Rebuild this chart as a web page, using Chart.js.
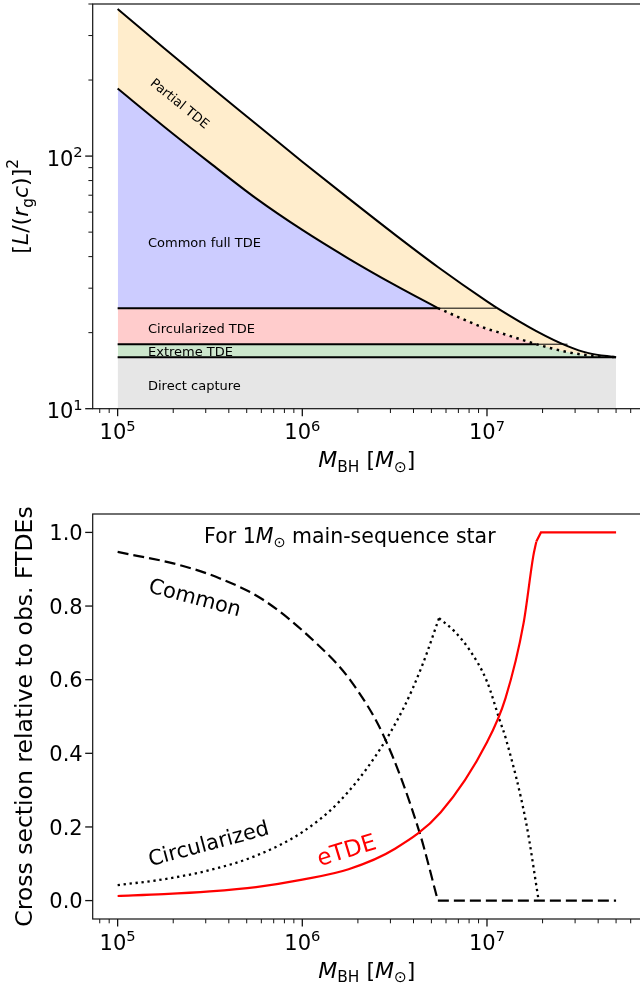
<!DOCTYPE html>
<html>
<head>
<meta charset="utf-8">
<title>TDE regions and cross sections</title>
<script src="https://cdn.jsdelivr.net/npm/chart.js@4.4.1/dist/chart.umd.min.js"></script>
<style>
  html, body { margin: 0; padding: 0; background: #fff; overflow: hidden; }
  body { width: 640px; height: 988px; position: relative; }
  .panel { position: absolute; left: 0; width: 660px; }
  #topPanel { top: 0; height: 490px; }
  #bottomPanel { top: 490px; height: 498px; }
</style>
</head>
<body>
<div class="panel" id="topPanel"><canvas id="regionChart"></canvas></div>
<div class="panel" id="bottomPanel"><canvas id="crossChart"></canvas></div>
<script>
// ---- values ----

// upper panel: limits on [L/(r_g c)]^2 against black hole mass
const regionMass = [1e5, 1.78e5, 3.16e5, 5.62e5, 1e6, 1.78e6, 3.16e6, 5.42e6, 1e7, 1.12e7, 1.85e7, 2.73e7, 3.55e7, 5e7];
const partialEdge = [382, 268, 189, 134, 95, 68, 49, 36.4, 26.6, 25.2, 20.3, 17.7, 16.6, 16.0];
const fullEdge = [185, 131, 94, 68, 51, 39.3, 30.9, 25, 20.7, 20.2, 18, 16.75, 16.26, 16.0];
const circularizedLevel = 25;
const extremeLevel = 18;
const captureLevel = 16;

// lower panel: cross section relative to observed FTDEs
const commonMass = [1e5, 2.18e5, 3.58e5, 6.14e5, 1.19e6, 1.81e6, 2.79e6, 4.32e6, 5.42e6, 5e7];
const commonFrac = [0.947, 0.911, 0.875, 0.817, 0.699, 0.600, 0.442, 0.184, 0.0, 0.0];
const circMass = [1e5, 1.78e5, 3.16e5, 5.62e5, 1e6, 1.58e6, 2.51e6, 3.55e6, 4.47e6, 5.5e6, 6.67e6, 8.04e6, 1e7, 1.17e7, 1.27e7, 1.63e7, 1.905e7];
const circFrac = [0.042, 0.058, 0.083, 0.122, 0.186, 0.268, 0.395, 0.525, 0.64, 0.767, 0.731, 0.681, 0.595, 0.491, 0.437, 0.211, 0.0];
const eMass = [1e5, 1.78e5, 3.16e5, 5.62e5, 1e6, 1.78e6, 3.16e6, 5.62e6, 1e7, 1.26e7, 1.58e7, 1.78e7, 1.85e7, 1.96e7, 5e7];
const eFrac = [0.0125, 0.0173, 0.0248, 0.0367, 0.057, 0.085, 0.14, 0.24, 0.43, 0.55, 0.755, 0.935, 0.975, 1.0, 1.0];

// axes
const massRange = [73282, 6.823e7];
const massTickExps = [5, 6, 7];
const lRange = [10, 400];
const lTickExps = [1, 2];
const fracRange = [-0.05, 1.05];
const fracTicks = [0, 0.2, 0.4, 0.6, 0.8, 1.0];
const fracTickLabels = ["0.0", "0.2", "0.4", "0.6", "0.8", "1.0"];

const FONT = '"DejaVu Sans", sans-serif';
const ORANGE = "rgb(255,237,204)";
const BLUE = "rgb(204,204,255)";
const PINK = "rgb(255,204,204)";
const GREEN = "rgb(204,230,204)";
const GRAY = "rgb(230,230,230)";
const NONE = "rgba(0,0,0,0)";

function pts(xs, ys, from, to) {
  const out = [];
  const last = to === undefined ? xs.length - 1 : to;
  for (let i = from || 0; i <= last; i++) out.push({ x: xs[i], y: ys[i] });
  return out;
}

function level(x0, x1, v) {
  return [{ x: x0, y: v }, { x: x1, y: v }];
}

function curve(data, extra) {
  return Object.assign({
    data: data, borderColor: "#000", borderWidth: 2, pointRadius: 0,
    fill: false, cubicInterpolationMode: "monotone"
  }, extra);
}

function straight(data, extra) {
  return curve(data, Object.assign({ cubicInterpolationMode: "default", tension: 0 }, extra));
}

function axis(type, range, size, isX) {
  return {
    type: type, min: range[0], max: range[1], bounds: "data",
    ticks: { display: false }, grid: { display: false }, border: { display: false },
    afterFit: function (s) { if (isX) s.height = size; else s.width = size; }
  };
}

function minorsBetween(lo, hi) {
  const out = [];
  for (let e = Math.floor(Math.log10(lo)); e <= Math.ceil(Math.log10(hi)); e++) {
    for (let k = 2; k <= 9; k++) {
      const v = k * Math.pow(10, e);
      if (v >= lo && v <= hi) out.push(v);
    }
  }
  return out;
}

// text made of pieces (italic, sub- and superscripts)
function rich(ctx, parts, x, y, o) {
  o = o || {};
  ctx.save();
  ctx.translate(x, y);
  if (o.rotate) ctx.rotate(o.rotate * Math.PI / 180);
  ctx.fillStyle = o.color || "#000";
  ctx.textAlign = "left";
  ctx.textBaseline = "alphabetic";
  let w = 0;
  parts.forEach(function (p) {
    ctx.font = (p.italic ? "italic " : "") + p.size + "px " + FONT;
    w += ctx.measureText(p.t).width;
  });
  let cx = o.align === "center" ? -w / 2 : o.align === "right" ? -w : 0;
  const dy = o.vcenter ? parts[0].size * 0.36 : 0;
  parts.forEach(function (p) {
    ctx.font = (p.italic ? "italic " : "") + p.size + "px " + FONT;
    ctx.fillText(p.t, cx, dy + (p.dy || 0));
    cx += ctx.measureText(p.t).width;
  });
  ctx.restore();
}

function plain(t, size) { return [{ t: t, size: size }]; }
function pow10(n) { return [{ t: "10", size: 21 }, { t: String(n), size: 14.7, dy: -8.4 }]; }

const massTitle = [
  { t: "M", size: 22, italic: true }, { t: "BH", size: 15.4, dy: 4.5 },
  { t: " [", size: 22 }, { t: "M", size: 22, italic: true },
  { t: "\u2299", size: 15.4, dy: 4.5 }, { t: "]", size: 22 }
];
const lTitle = [
  { t: "[", size: 22 }, { t: "L", size: 22, italic: true }, { t: "/(", size: 22 },
  { t: "r", size: 22, italic: true }, { t: "g", size: 15.4, dy: 4.5 },
  { t: "c", size: 22, italic: true }, { t: ")]", size: 22 }, { t: "2", size: 15.4, dy: -10 }
];
const fracTitle = plain("Cross section relative to obs. FTDEs", 23.5);

function tickLine(ctx, x0, y0, x1, y1, w) {
  ctx.lineWidth = w;
  ctx.beginPath();
  ctx.moveTo(x0, y0);
  ctx.lineTo(x1, y1);
  ctx.stroke();
}

function frameAndMassAxis(chart) {
  const ctx = chart.ctx, a = chart.chartArea, xs = chart.scales.x;
  ctx.strokeStyle = "#111";
  ctx.lineWidth = 1.2;
  ctx.strokeRect(a.left, a.top, a.right - a.left, a.bottom - a.top);
  minorsBetween(massRange[0], massRange[1]).forEach(function (v) {
    const px = xs.getPixelForValue(v);
    tickLine(ctx, px, a.bottom, px, a.bottom + 4.3, 1.0);
  });
  massTickExps.forEach(function (e) {
    const px = xs.getPixelForValue(Math.pow(10, e));
    tickLine(ctx, px, a.bottom, px, a.bottom + 7.5, 1.3);
    rich(ctx, pow10(e), px, a.bottom + 30.5, { align: "center" });
  });
  rich(ctx, massTitle, (a.left + a.right) / 2, a.bottom + 58.5, { align: "center" });
}

const regionDecor = {
  id: "regionDecor",
  afterDatasetsDraw: function (chart) {
    const ctx = chart.ctx, a = chart.chartArea, xs = chart.scales.x, ys = chart.scales.y;
    ctx.save();
    frameAndMassAxis(chart);
    minorsBetween(lRange[0], lRange[1]).forEach(function (v) {
      const py = ys.getPixelForValue(v);
      tickLine(ctx, a.left, py, a.left - 4.3, py, 1.0);
    });
    lTickExps.forEach(function (e) {
      const py = ys.getPixelForValue(Math.pow(10, e));
      tickLine(ctx, a.left, py, a.left - 7.5, py, 1.3);
      rich(ctx, pow10(e), a.left - 10, py + 9.5, { align: "right" });
    });
    rich(ctx, lTitle, 28, (a.top + a.bottom) / 2, { align: "center", rotate: -90 });

    const X = function (v) { return xs.getPixelForValue(v); };
    const Y = function (v) { return ys.getPixelForValue(v); };
    rich(ctx, plain("Partial TDE", 13), X(2.18e5), Y(162), { align: "center", rotate: 39, vcenter: true });
    rich(ctx, plain("Common full TDE", 13), X(1.46e5), Y(43.6));
    rich(ctx, plain("Circularized TDE", 13), X(1.46e5), Y(19.95));
    rich(ctx, plain("Extreme TDE", 13), X(1.46e5), Y(16.1));
    rich(ctx, plain("Direct capture", 13), X(1.46e5), Y(11.9));
    ctx.restore();
  }
};

const crossDecor = {
  id: "crossDecor",
  afterDatasetsDraw: function (chart) {
    const ctx = chart.ctx, a = chart.chartArea, xs = chart.scales.x, ys = chart.scales.y;
    ctx.save();
    frameAndMassAxis(chart);
    fracTicks.forEach(function (v, i) {
      const py = ys.getPixelForValue(v);
      tickLine(ctx, a.left, py, a.left - 7.5, py, 1.3);
      rich(ctx, plain(fracTickLabels[i], 21), a.left - 10, py + 7.6, { align: "right" });
    });
    rich(ctx, fracTitle, 32, (a.top + a.bottom) / 2, { align: "center", rotate: -90 });

    const X = function (v) { return xs.getPixelForValue(v); };
    const Y = function (v) { return ys.getPixelForValue(v); };
    rich(ctx, [
      { t: "For 1", size: 20.5 }, { t: "M", size: 20.5, italic: true },
      { t: "\u2299", size: 14.4, dy: 4.2 }, { t: " main-sequence star", size: 20.5 }
    ], X(2.94e5), Y(0.972));
    rich(ctx, plain("Common", 21), X(2.63e5), Y(0.825), { align: "center", rotate: 15, vcenter: true });
    rich(ctx, plain("Circularized", 21), X(3.1e5), Y(0.157), { align: "center", rotate: -15, vcenter: true });
    rich(ctx, plain("eTDE", 23), X(1.73e6), Y(0.139), { align: "center", rotate: -17, vcenter: true, color: "#ff0000" });
    ctx.restore();
  }
};

function chartOptions(padTop, xHeight, yType, yRange) {
  return {
    responsive: true,
    maintainAspectRatio: false,
    animation: false,
    layout: { padding: { top: padTop, right: 19, bottom: 0, left: 0 } },
    plugins: {
      legend: { display: false },
      tooltip: { enabled: false },
      filler: { drawTime: "beforeDatasetsDraw" }
    },
    scales: {
      x: axis("logarithmic", massRange, xHeight, true),
      y: axis(yType, yRange, 92.7, false)
    }
  };
}

// upper panel
const pinkEdge = fullEdge.map(function (v) { return Math.min(v, circularizedLevel); });
const greenEdge = fullEdge.map(function (v) { return Math.min(v, extremeLevel); });
const captureEdge = regionMass.map(function () { return captureLevel; });

new Chart(document.getElementById("regionChart"), {
  type: "line",
  data: {
    datasets: [
      curve(pts(regionMass, partialEdge), { fill: { target: 1, above: ORANGE, below: NONE } }),
      curve(pts(regionMass, fullEdge), { borderColor: NONE, fill: { target: 2, above: BLUE, below: NONE } }),
      curve(pts(regionMass, pinkEdge), { borderColor: NONE, fill: { target: 3, above: PINK, below: NONE } }),
      curve(pts(regionMass, greenEdge), { borderColor: NONE, fill: { target: 4, above: GREEN, below: NONE } }),
      straight(pts(regionMass, captureEdge), { fill: "start", backgroundColor: GRAY }),
      straight(level(regionMass[0], regionMass[7], circularizedLevel)),
      straight(level(regionMass[7], regionMass[9], circularizedLevel), { borderWidth: 1 }),
      straight(level(regionMass[0], regionMass[10], extremeLevel)),
      straight(level(regionMass[10], regionMass[11], extremeLevel), { borderWidth: 1 }),
      curve(pts(regionMass, fullEdge, 0, 7)),
      curve(pts(regionMass, fullEdge, 7), { borderWidth: 2.5, borderDash: [2.5, 4.5] })
    ]
  },
  options: chartOptions(4, 81.3, "logarithmic", lRange),
  plugins: [regionDecor]
});

// lower panel
const dashed = { borderWidth: 2.2, borderDash: [11, 5] };
const dotted = { borderWidth: 2.3, borderDash: [2.3, 3.7] };

new Chart(document.getElementById("crossChart"), {
  type: "line",
  data: {
    datasets: [
      curve(pts(eMass, eFrac, 0, 12), { borderColor: "#ff0000", borderWidth: 2.2 }),
      straight(pts(eMass, eFrac, 12), { borderColor: "#ff0000", borderWidth: 2.2 }),
      curve(pts(commonMass, commonFrac, 0, 8), dashed),
      straight(pts(commonMass, commonFrac, 8), dashed),
      curve(pts(circMass, circFrac, 0, 9), dotted),
      curve(pts(circMass, circFrac, 9), dotted)
    ]
  },
  options: chartOptions(24, 69, "linear", fracRange),
  plugins: [crossDecor]
});
</script>
</body>
</html>
